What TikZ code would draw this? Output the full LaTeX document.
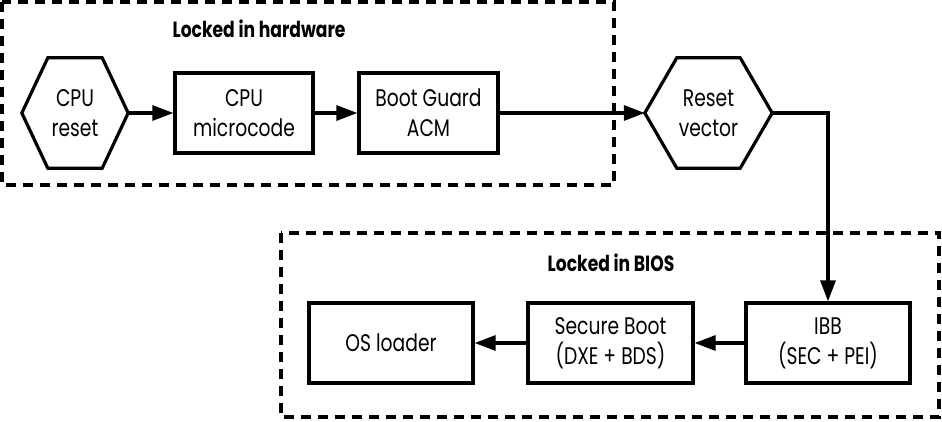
\documentclass[tikz,border=0pt]{standalone}
\usepackage{fontspec}
\setmainfont[FakeStretch=0.78]{Poppins}
\usetikzlibrary{arrows.meta}
\newcommand{\hexdraw}[2]{%
  \draw[line width=3.2pt, line join=miter] (#1.west) -- ([xshift=#2]#1.north west) -- ([xshift=-#2]#1.north east) -- (#1.east) -- ([xshift=-#2]#1.south east) -- ([xshift=#2]#1.south west) -- cycle;}
\begin{document}
\begin{tikzpicture}[x=1pt,y=-1pt,
  txt/.style={font=\fontsize{24}{30}\selectfont},
  box/.style={txt, draw, line width=3.2pt, minimum height=80pt, align=center, inner sep=0pt},
  hexbox/.style={txt, minimum height=110pt, align=center, inner sep=0pt},
  link/.style={line width=3.2pt, -{Triangle[length=21pt,width=15pt]}},
  frame/.style={line width=3.2pt, dash pattern=on 10pt off 7pt},
  title/.style={font=\bfseries\fontsize{22}{24}\selectfont}]
\useasboundingbox (0,0) rectangle (942,421);
% frames
\draw[frame] (2,2) rectangle (614,185);
\draw[frame] (281,233) rectangle (939,417);
\node[title] (t1) at (259,29) {Locked in hardware};
\node[title] (t2) at (611,263) {Locked in BIOS};
% top row
\node[hexbox, minimum width=106pt] (cr) at (75,113) {CPU\\reset};
\hexdraw{cr}{26pt}
\node[box, minimum width=138pt] (mc) at (244,113) {CPU\\microcode};
\node[box, minimum width=139pt] (bg) at (428.5,113) {Boot Guard\\ACM};
\node[hexbox, minimum width=127pt] (rv) at (708.5,113) {Reset\\vector};
\hexdraw{rv}{32pt}
% bottom row
\node[box, minimum width=164pt] (ibb) at (828,343) {IBB\\(SEC + PEI)};
\node[box, minimum width=165pt] (sb) at (610.5,343) {Secure Boot\\(DXE + BDS)};
\node[box, minimum width=164pt] (os) at (391,343) {OS loader};
% links
\draw[link] (cr.east) -- (mc.west);
\draw[link] (mc.east) -- (bg.west);
\draw[link] (bg.east) -- (rv.west);
\draw[link] (rv.east) -| (ibb.north);
\draw[link] (ibb.west) -- (sb.east);
\draw[link] (sb.west) -- (os.east);
\end{tikzpicture}
\end{document}
